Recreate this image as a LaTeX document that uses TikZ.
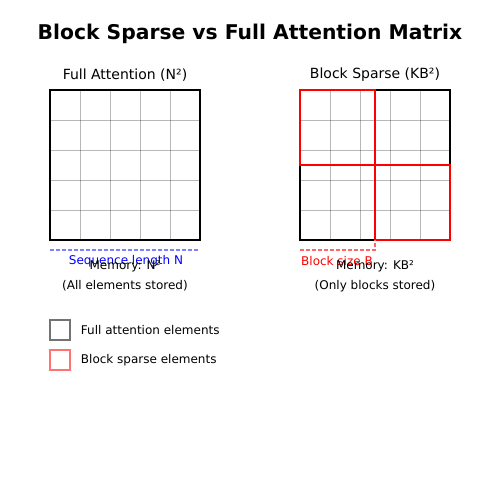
\documentclass[tikz,border=0pt]{standalone}
\usepackage{fontspec}
\setmainfont{DejaVu Sans}
\usetikzlibrary{positioning}
\tikzstyle{gridline} = [draw, black, opacity=0.28, line width=1pt]
\tikzstyle{frame} = [draw, black, line width=2pt]
\tikzstyle{blockbox} = [draw, red, line width=1.5pt]
\tikzstyle{measure} = [draw, dash pattern=on 4pt off 2pt, line width=1.5pt]
\tikzstyle{keybox} = [draw, line width=1.5pt, minimum size=20pt, inner sep=0pt]
\newcommand{\fsz}[1]{\fontsize{#1}{#1}\selectfont}

\begin{document}
\begin{tikzpicture}[x=1pt, y=-1pt, every node/.style={inner sep=0pt}]
    \useasboundingbox (0,0) rectangle (500,500);
    \node (title) at (250,34) {\fsz{20.3}\bfseries Block Sparse vs Full Attention Matrix};
    % full attention matrix
    \node (fulltitle) at (125,75) {\fsz{14}Full Attention (N²)};
    \foreach \i in {1,...,4} {
        \path [gridline] (50+30*\i,90) -- (50+30*\i,240);
        \path [gridline] (50,90+30*\i) -- (200,90+30*\i);
    }
    \path [frame] (50,90) rectangle (200,240);
    \path [measure, draw=blue!50] (50,250) -- (198,250);
    \node (seqlen) [blue] at (126,261) {\fsz{12}Sequence length N};
    \node (fullmem) at (125,266) {\fsz{12}Memory: N²};
    \node (fullnote) at (125,286) {\fsz{12}(All elements stored)};
    % block sparse matrix
    \node (sparsetitle) at (375,75) {\fsz{14}Block Sparse (KB²)};
    \foreach \i in {1,...,4} {
        \path [gridline] (300+30*\i,90) -- (300+30*\i,240);
        \path [gridline] (300,90+30*\i) -- (450,90+30*\i);
    }
    \path [frame] (300,90) rectangle (450,240);
    \path [blockbox] (300,90) rectangle (375,165);
    \path [blockbox] (375,165) rectangle (450,240);
    \path [measure, draw=red!60] (300,250) -- (375,250) -- (375,240);
    \node (blocksize) [red] at (337,261) {\fsz{12}Block size B};
    \node (sparsemem) at (375,266) {\fsz{12}Memory: KB²};
    \node (sparsenote) at (375,286) {\fsz{12}(Only blocks stored)};
    % legend
    \node (keyfull) [keybox, draw=black!55] at (60,330) {};
    \node (keyfulltext) [right=10pt of keyfull] {\fsz{12}Full attention elements};
    \node (keysparse) [keybox, draw=red!55] at (60,360) {};
    \node (keysparsetext) [right=10pt of keysparse] {\fsz{12}Block sparse elements};
\end{tikzpicture}
\end{document}
